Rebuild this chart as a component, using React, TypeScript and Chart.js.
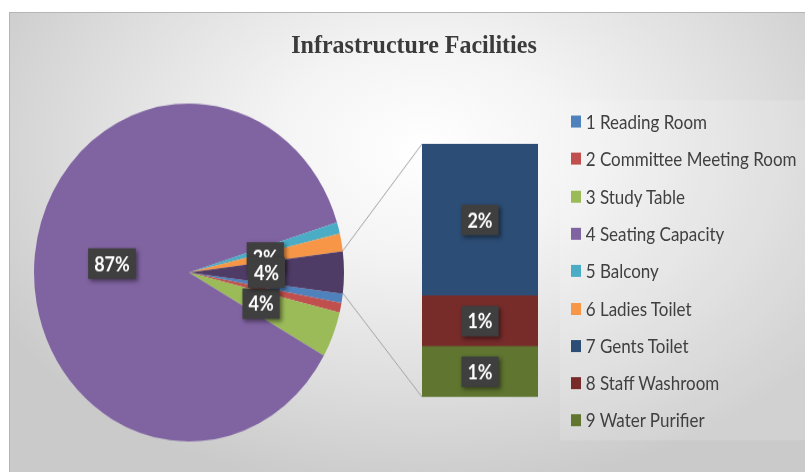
import React, { useEffect, useRef } from 'react';
import { Chart, registerables } from 'chart.js';

Chart.register(...registerables);

// ---------- data ----------
const chartTitle = 'Infrastructure Facilities';
const pieCategories = ['1 Reading Room', '2 Committee Meeting Room', '3 Study Table', '4 Seating Capacity', '5 Balcony', '6 Ladies Toilet'];
const pieValues = [0.9, 0.9, 4.4, 87.0, 1.1, 1.7];
const pieColors = ['#4f81bd', '#c0504d', '#9bbb59', '#8064a2', '#4bacc6', '#f79646'];
const barCategories = ['7 Gents Toilet', '8 Staff Washroom', '9 Water Purifier'];
const barValues = [2.4, 0.8, 0.8];
const barColors = ['#2c4d75', '#772c2a', '#5f7530'];
const otherLabel = 'Other';
const otherColor = '#4e3b66';

// ---------- layout (unscaled coordinates inside the stretched frame) ----------
const STRETCH = 1.09;
const FRAME_W = 796;
const FRAME_H = 422;
const PIE_SIZE = 340;
const PIE_LEFT = 10;
const PIE_TOP = 68.5;

const otherSum = barValues.reduce((a, b) => a + b, 0);
const total = pieValues.reduce((a, b) => a + b, 0) + otherSum;
const pct = (v: number) => Math.round(v) + '%';

function drawBox(ctx: CanvasRenderingContext2D, cx: number, cy: number, text: string) {
  ctx.save();
  ctx.font = 'bold 18px Lato';
  const w = ctx.measureText(text).width + 12;
  const h = 28;
  ctx.shadowColor = 'rgba(0,0,0,0.45)';
  ctx.shadowBlur = 4;
  ctx.shadowOffsetX = 2;
  ctx.shadowOffsetY = 2;
  ctx.fillStyle = '#3f3f3f';
  ctx.fillRect(cx - w / 2, cy - h / 2, w, h);
  ctx.shadowColor = 'transparent';
  ctx.fillStyle = '#ffffff';
  ctx.textAlign = 'center';
  ctx.textBaseline = 'middle';
  ctx.fillText(text, cx, cy + 1);
  ctx.restore();
}

const pieLabelPlugin = {
  id: 'pieLabels',
  afterDatasetsDraw(chart: any) {
    const meta = chart.getDatasetMeta(0);
    const vals = chart.data.datasets[0].data as number[];
    meta.data.forEach((el: any, i: number) => {
      if (vals[i] < 1.5) return;
      const p = el.getCenterPoint();
      drawBox(chart.ctx, p.x, p.y, pct(vals[i]));
    });
  },
};

const barLabelPlugin = {
  id: 'barLabels',
  afterDatasetsDraw(chart: any) {
    chart.data.datasets.forEach((ds: any, di: number) => {
      const meta = chart.getDatasetMeta(di);
      meta.data.forEach((el: any, i: number) => {
        const p = el.getCenterPoint();
        drawBox(chart.ctx, p.x, p.y, pct(ds.data[i]));
      });
    });
  },
};

export default function App() {
  const pieRef = useRef<HTMLCanvasElement>(null);
  const barRef = useRef<HTMLCanvasElement>(null);

  useEffect(() => {
    if (!pieRef.current || !barRef.current) return;
    const rotation = 90 + (otherSum / total) * 180;
    const pie = new Chart(pieRef.current, {
      type: 'pie',
      data: {
        labels: [...pieCategories, otherLabel],
        datasets: [
          {
            data: [...pieValues, otherSum],
            backgroundColor: [...pieColors, otherColor],
            borderWidth: 0,
            hoverOffset: 0,
            offset: 0,
          } as any,
        ],
      },
      options: {
        responsive: false,
        animation: false,
        rotation,
        layout: { padding: 15 },
        plugins: { legend: { display: false }, tooltip: { enabled: false }, title: { display: false } },
        events: [],
      },
      plugins: [pieLabelPlugin],
    });

    const connectorPlugin = {
      id: 'connectors',
      afterDatasetsDraw(chart: any) {
        const arc: any = pie.getDatasetMeta(0).data[pieValues.length];
        if (!arc) return;
        const a = arc.getProps(['x', 'y', 'startAngle', 'endAngle', 'outerRadius'], true);
        const pts = [a.startAngle, a.endAngle].map((ang: number) => ({
          x: PIE_LEFT + a.x + a.outerRadius * Math.cos(ang),
          y: PIE_TOP + a.y + a.outerRadius * Math.sin(ang),
        }));
        pts.sort((p, q) => p.y - q.y);
        let top = Infinity, bottom = -Infinity, left = Infinity;
        chart.data.datasets.forEach((_: any, di: number) => {
          chart.getDatasetMeta(di).data.forEach((el: any) => {
            const b = el.getProps(['x', 'y', 'base', 'width'], true);
            top = Math.min(top, b.y, b.base);
            bottom = Math.max(bottom, b.y, b.base);
            left = Math.min(left, b.x - b.width / 2);
          });
        });
        const ctx = chart.ctx;
        ctx.save();
        ctx.strokeStyle = '#a3a3a3';
        ctx.lineWidth = 1;
        ctx.beginPath();
        ctx.moveTo(pts[0].x, pts[0].y);
        ctx.lineTo(left, top);
        ctx.moveTo(pts[1].x, pts[1].y);
        ctx.lineTo(left, bottom);
        ctx.stroke();
        ctx.restore();
      },
    };

    const barDatasets = barCategories
      .map((c, i) => ({
        label: c,
        data: [barValues[i]],
        backgroundColor: barColors[i],
        borderWidth: 0,
        categoryPercentage: 1,
        barPercentage: 1,
        stack: 's',
      }))
      .reverse();

    const bar = new Chart(barRef.current, {
      type: 'bar',
      data: { labels: [otherLabel], datasets: barDatasets as any },
      options: {
        responsive: false,
        animation: false,
        events: [],
        layout: { padding: { left: 413, right: FRAME_W - 529, top: 121.1, bottom: FRAME_H - 353.2 } },
        scales: {
          x: { stacked: true, display: false },
          y: { stacked: true, display: false, min: 0, max: otherSum },
        },
        plugins: { legend: { display: false }, tooltip: { enabled: false }, title: { display: false } },
      },
      plugins: [barLabelPlugin, connectorPlugin],
    });

    return () => {
      bar.destroy();
      pie.destroy();
    };
  }, []);

  const legendItems = [
    ...pieCategories.map((c, i) => ({ label: c, color: pieColors[i] })),
    ...barCategories.map((c, i) => ({ label: c, color: barColors[i] })),
  ];

  return (
    <div style={{ position: 'absolute', left: 0, top: 0, width: 805, height: 472, overflow: 'hidden', background: '#ffffff' }}>
      <div
        style={{
          position: 'absolute',
          left: 9,
          top: 12,
          width: FRAME_W,
          height: FRAME_H,
          transform: `scaleY(${STRETCH})`,
          transformOrigin: '0 0',
          background:
            'radial-gradient(ellipse 62% 75% at 52% 30%, #ffffff 0%, #f4f4f4 30%, #dedede 68%, #cacaca 100%)',
          boxShadow: 'inset 1px 1px 0 #b5b5b5',
        }}
      >
        <div
          style={{
            position: 'absolute',
            left: 0,
            top: 15.3,
            width: 810,
            height: 30,
            lineHeight: '30px',
            textAlign: 'center',
            fontFamily: '"Liberation Serif", "Times New Roman", serif',
            fontWeight: 'bold',
            fontSize: 24,
            color: '#3b3b3b',
          }}
        >
          {chartTitle}
        </div>
        <div
          style={{
            position: 'absolute',
            left: 551,
            top: 81,
            width: 260,
            height: 312,
            background: 'rgba(255,255,255,0.14)',
          }}
        />
        <div style={{ position: 'absolute', left: 561.7, top: 83.45 }}>
          {legendItems.map((it) => (
            <div
              key={it.label}
              style={{
                height: 34.3,
                display: 'flex',
                alignItems: 'center',
                fontFamily: 'Lato, "Open Sans", sans-serif',
                fontSize: 17,
                color: '#404040',
                whiteSpace: 'nowrap',
              }}
            >
              <span style={{ display: 'inline-block', width: 10, height: 11, background: it.color, marginRight: 5 }} />
              <span>{it.label}</span>
            </div>
          ))}
        </div>
        <canvas
          ref={pieRef}
          width={PIE_SIZE}
          height={PIE_SIZE}
          style={{ position: 'absolute', left: PIE_LEFT, top: PIE_TOP, width: PIE_SIZE, height: PIE_SIZE }}
        />
        <canvas
          ref={barRef}
          width={FRAME_W}
          height={FRAME_H}
          style={{ position: 'absolute', left: 0, top: 0, width: FRAME_W, height: FRAME_H, pointerEvents: 'none' }}
        />
      </div>
    </div>
  );
}
